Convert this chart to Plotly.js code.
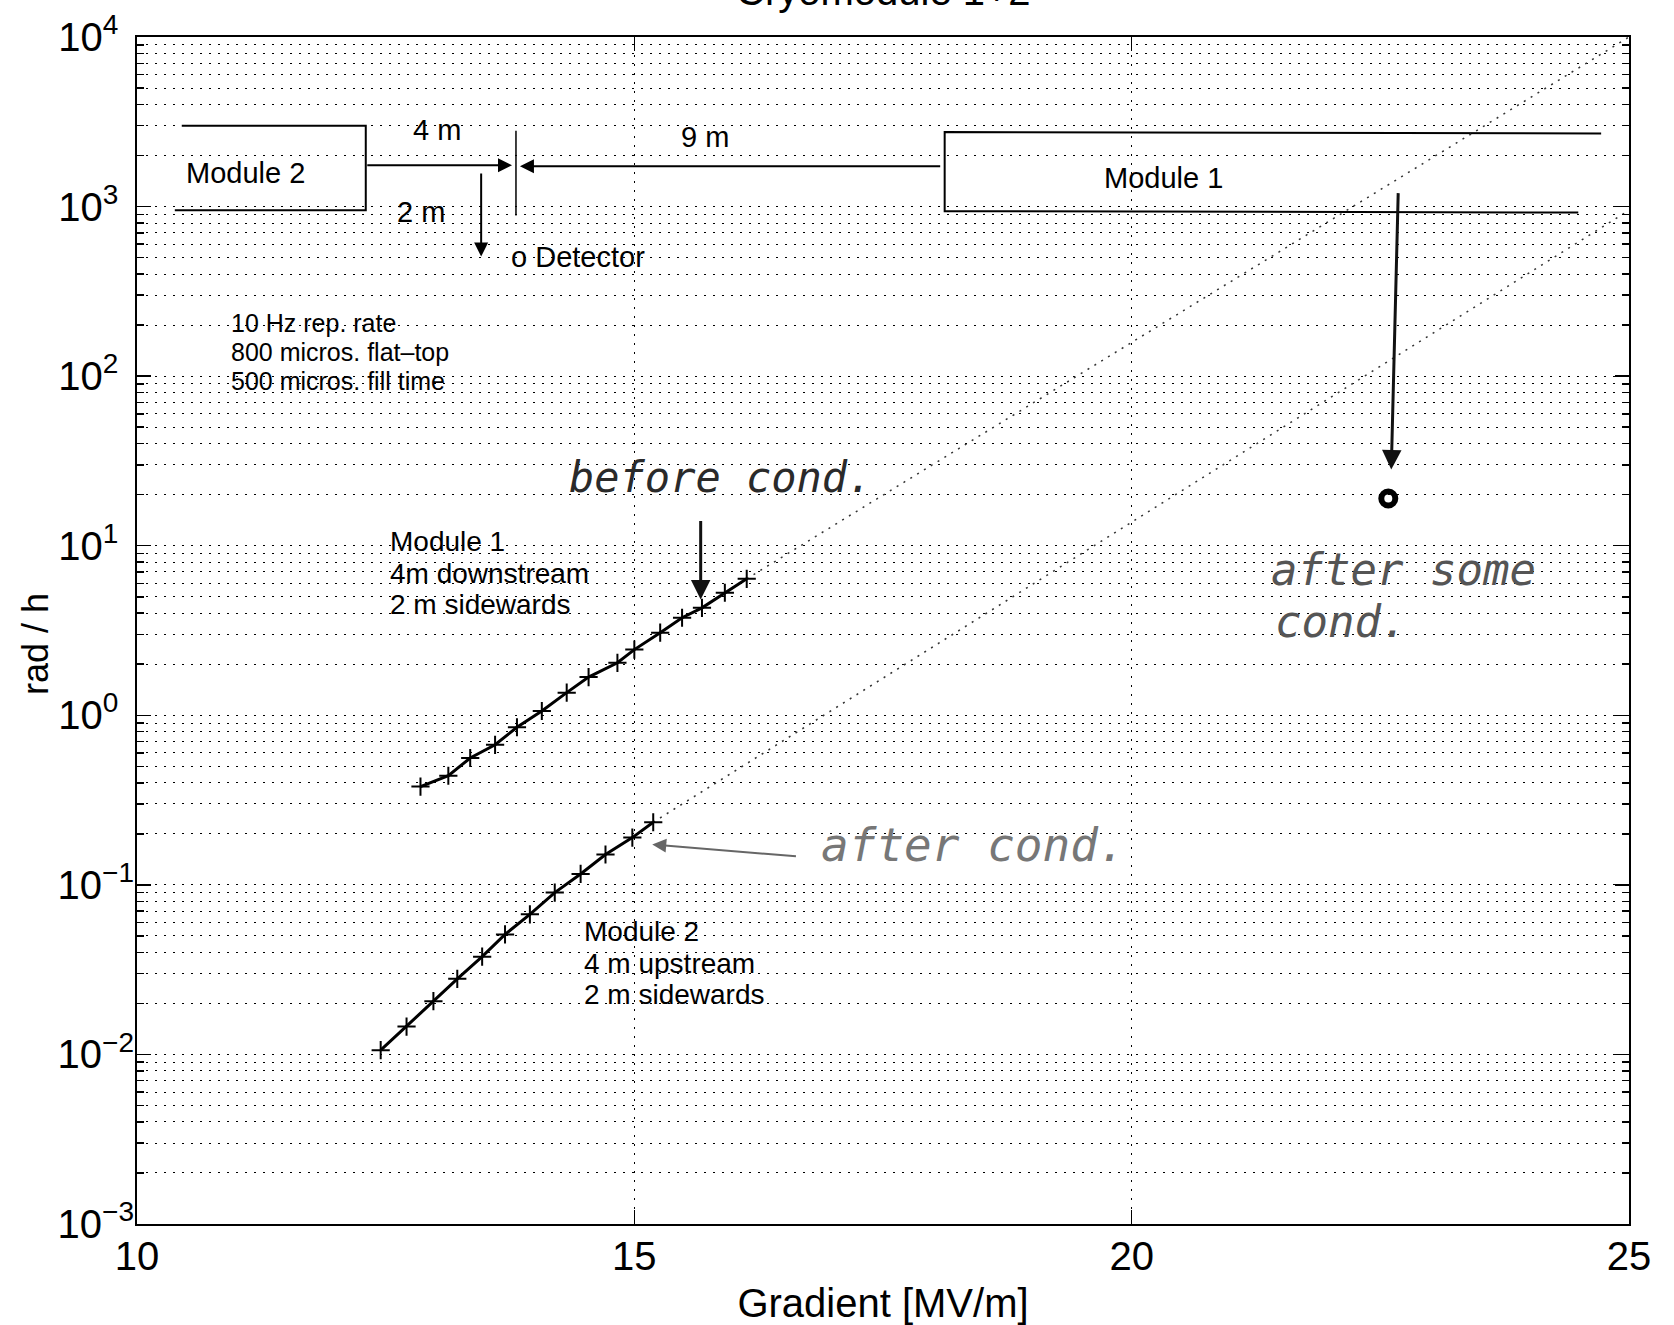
<!DOCTYPE html>
<html>
<head>
<meta charset="utf-8">
<script src="https://cdn.plot.ly/plotly-3.0.1.min.js"></script>
<style>
  html, body { margin: 0; padding: 0; background: #fff; }
  #chart { width: 1674px; height: 1325px; }
</style>
</head>
<body>
<div id="chart"></div>
<script>
// Dose rate beside cryomodules 1 and 2 versus accelerating gradient

// Module 1, detector 4 m downstream, 2 m sidewards (before conditioning)
const gradModule1 = [12.85, 13.13, 13.35, 13.60, 13.82, 14.07, 14.32, 14.54, 14.83, 15.00, 15.26, 15.48, 15.68, 15.91, 16.13];
const doseModule1 = [0.38, 0.44, 0.56, 0.67, 0.85, 1.06, 1.36, 1.68, 2.04, 2.44, 3.07, 3.76, 4.30, 5.28, 6.38];

// Module 2, detector 4 m upstream, 2 m sidewards (after conditioning)
const gradModule2 = [12.45, 12.71, 12.98, 13.22, 13.47, 13.70, 13.95, 14.20, 14.46, 14.71, 14.98, 15.19];
const doseModule2 = [0.0106, 0.0146, 0.0206, 0.0279, 0.0377, 0.051, 0.067, 0.090, 0.116, 0.151, 0.190, 0.234];

// Exponential extrapolations (end points)
const trendModule1Grad = [16.13, 25];
const trendModule1Dose = [6.38, 10000];
const trendModule2Grad = [15.19, 25];
const trendModule2Dose = [0.234, 950];

// Module 1 reading after some conditioning
const afterSomeCondGrad = [22.58];
const afterSomeCondDose = [19];

// Layout sketch of the two modules and the detector
const module2OutlineX = [10.45, 12.30, 12.30, 10.38];
const module2OutlineY = [3000, 3000, 950, 950];
const module1OutlineX = [24.72, 18.12, 18.12, 24.49];
const module1OutlineY = [2700, 2750, 940, 922];
const detectorMarkX = [13.81, 13.81];
const detectorMarkY = [2800, 885];

// Axis ticks
const xTickVals = [10, 15, 20, 25];
const xTickText = ['10', '15', '20', '25'];
const yExponents = [-3, -2, -1, 0, 1, 2, 3, 4];
const yTickVals = yExponents.map(e => Math.pow(10, e));
// positive exponents get a figure space so every base "10" lines up
const yTickText = yExponents.map(e => '10<sup>' + (e < 0 ? '\u2212' + (-e) : e + '\u2007') + '</sup>');
const yMinorVals = [];
yExponents.slice(0, -1).forEach(e => {
  for (let m = 2; m <= 9; m++) yMinorVals.push(m * Math.pow(10, e));
});

const FONT = 'Liberation Sans, Arial, Helvetica, sans-serif';
const HAND = 'DejaVu Sans Mono, monospace';
const L = Math.log10;

const gridDots = '2px,7px';

const traces = [
  { x: module2OutlineX, y: module2OutlineY, mode: 'lines', line: { color: '#000', width: 2 } },
  { x: module1OutlineX, y: module1OutlineY, mode: 'lines', line: { color: '#000', width: 2 } },
  { x: detectorMarkX, y: detectorMarkY, mode: 'lines', line: { color: '#000', width: 1.5 } },
  { x: trendModule1Grad, y: trendModule1Dose, mode: 'lines', line: { color: '#333', width: 1.5, dash: '2px,6px' } },
  { x: trendModule2Grad, y: trendModule2Dose, mode: 'lines', line: { color: '#333', width: 1.5, dash: '2px,6px' } },
  { x: gradModule1, y: doseModule1, mode: 'lines+markers',
    line: { color: '#000', width: 3 },
    marker: { symbol: 'cross-thin', size: 13, line: { color: '#000', width: 2 } } },
  { x: gradModule2, y: doseModule2, mode: 'lines+markers',
    line: { color: '#000', width: 3 },
    marker: { symbol: 'cross-thin', size: 13, line: { color: '#000', width: 2 } } },
  { x: afterSomeCondGrad, y: afterSomeCondDose, mode: 'markers',
    marker: { symbol: 'circle-open', size: 14, color: '#000', line: { color: '#000', width: 6 } } }
];

function txt(text, x, logy, size, opts) {
  return Object.assign({
    text: text, x: x, y: logy, xref: 'x', yref: 'y',
    showarrow: false, xanchor: 'center', yanchor: 'middle',
    font: { family: FONT, size: size, color: '#000' }
  }, opts || {});
}
function arrow(x0, logy0, x1, logy1, color, width, head, size) {
  return {
    text: '', x: x1, y: logy1, ax: x0, ay: logy0,
    xref: 'x', yref: 'y', axref: 'x', ayref: 'y',
    showarrow: true, arrowhead: head, arrowsize: size, arrowwidth: width,
    arrowcolor: color, standoff: 0, startstandoff: 0
  };
}

const annotations = [
  // title
  { text: 'Cryomodule 1+2', xref: 'paper', yref: 'paper', x: 0.5, y: 1.0391,
    xanchor: 'center', yanchor: 'middle', showarrow: false,
    font: { family: FONT, size: 40, color: '#000' } },
  // y-axis title
  { text: 'rad / h', xref: 'paper', yref: 'paper', x: -0.0684, y: 0.4886,
    xanchor: 'center', yanchor: 'middle', textangle: -90, showarrow: false,
    font: { family: FONT, size: 36, color: '#000' } },

  // module sketch
  txt('Module 2', 11.09, 3.20, 29),
  txt('Module 1', 20.32, 3.171, 29),
  txt('4 m', 13.02, 3.454, 29),
  txt('2 m', 12.86, 2.97, 29),
  txt('9 m', 15.71, 3.413, 29),
  txt('o Detector', 13.74, 2.705, 29, { xanchor: 'left' }),
  arrow(12.30, L(1750), 13.77, L(1750), '#000', 2, 2, 1.4),
  arrow(18.09, L(1730), 13.85, L(1730), '#000', 2, 2, 1.4),
  arrow(13.46, L(1600), 13.46, L(507), '#000', 2, 2, 1.4),

  // operating conditions
  txt('10 Hz rep. rate', 10.92, 2.313, 25, { xanchor: 'left' }),
  txt('800 micros. flat\u2013top', 10.92, 2.145, 25, { xanchor: 'left' }),
  txt('500 micros. fill time', 10.92, 1.974, 25, { xanchor: 'left' }),

  // curve labels
  txt('Module 1', 12.52, 1.025, 28, { xanchor: 'left' }),
  txt('4m downstream', 12.52, 0.836, 28, { xanchor: 'left' }),
  txt('2 m sidewards', 12.52, 0.653, 28, { xanchor: 'left' }),
  txt('Module 2', 14.476, -1.275, 28, { xanchor: 'left' }),
  txt('4 m upstream', 14.476, -1.463, 28, { xanchor: 'left' }),
  txt('2 m sidewards', 14.476, -1.646, 28, { xanchor: 'left' }),

  // handwritten notes
  txt('before cond.', 15.87, 1.402, 42, { font: { family: HAND, size: 42, color: '#2a2a2a', style: 'italic' } }),
  arrow(15.667, 1.1545, 15.667, 0.683, '#111', 3, 2, 1.3),
  txt('after some', 22.73, 0.860, 44, { font: { family: HAND, size: 44, color: '#555', style: 'italic' } }),
  txt('cond.', 21.42, 0.553, 44, { xanchor: 'left', font: { family: HAND, size: 44, color: '#555', style: 'italic' } }),
  arrow(22.68, 3.088, 22.61, 1.449, '#111', 3, 2, 1.3),
  txt('after cond.', 18.41, -0.762, 46, { font: { family: HAND, size: 46, color: '#777', style: 'italic' } }),
  arrow(16.64, -0.8325, 15.18, -0.762, '#666', 2, 2, 1.4)
];

const axisCommon = {
  showline: true, linecolor: '#000', linewidth: 2, mirror: 'ticks',
  ticks: 'inside', tickcolor: '#000', tickwidth: 1.5, ticklen: 14,
  showgrid: true, gridcolor: '#000', gridwidth: 1, griddash: gridDots,
  zeroline: false, tickfont: { family: FONT, size: 40, color: '#000' }
};

const layout = {
  width: 1674, height: 1325,
  margin: { l: 137, r: 45, t: 37, b: 101, pad: 0 },
  paper_bgcolor: '#fff', plot_bgcolor: '#fff',
  showlegend: false, hovermode: false,
  font: { family: FONT, color: '#000' },
  xaxis: Object.assign({}, axisCommon, {
    range: [10, 25], tickmode: 'array', tickvals: xTickVals, ticktext: xTickText,
    ticklabelstandoff: -4,
    title: { text: 'Gradient [MV/m]', font: { family: FONT, size: 40, color: '#000' }, standoff: 13 }
  }),
  yaxis: Object.assign({}, axisCommon, {
    type: 'log', range: [-3, 4], tickmode: 'array', tickvals: yTickVals, ticktext: yTickText,
    ticklabelstandoff: -7,
    minor: { tickmode: 'array', tickvals: yMinorVals, ticks: 'inside', ticklen: 7,
             tickcolor: '#000', tickwidth: 1.5,
             showgrid: true, gridcolor: '#000', gridwidth: 1, griddash: gridDots }
  }),
  annotations: annotations
};

Plotly.newPlot('chart', traces, layout, { staticPlot: true, displayModeBar: false });
</script>
</body>
</html>
